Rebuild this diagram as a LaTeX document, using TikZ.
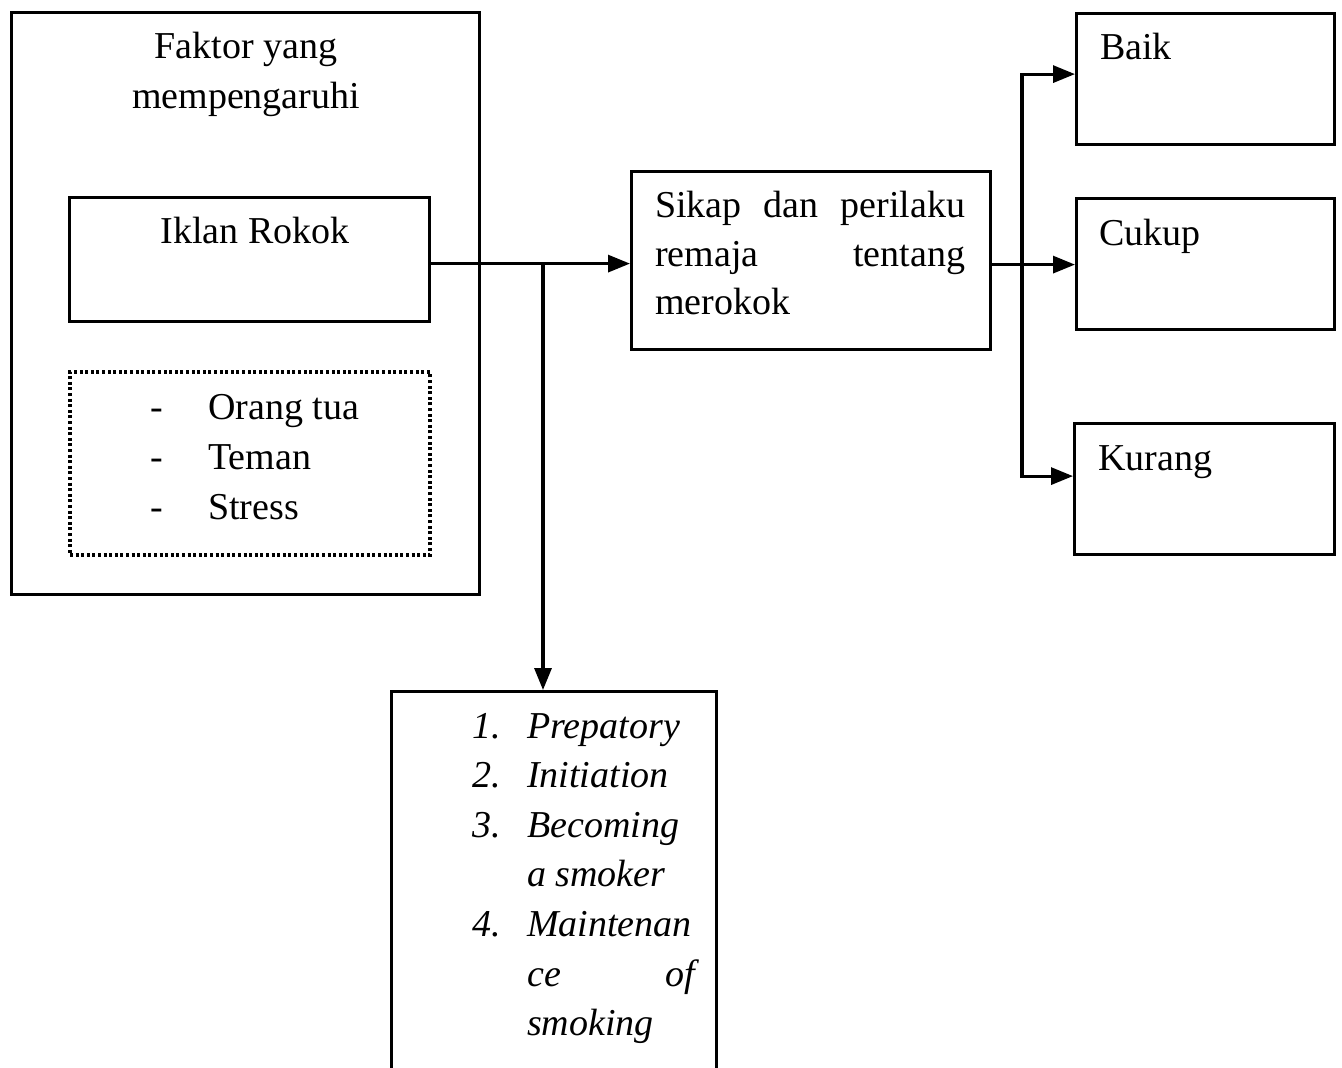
\documentclass[tikz,border=0pt]{standalone}
\usepackage{fontspec}
\setmainfont{Liberation Serif}
\usetikzlibrary{arrows.meta}
\begin{document}
\begin{tikzpicture}[x=1pt,y=-1pt,
  box/.style={draw, line width=3.2pt, inner sep=0pt, anchor=north west},
  dotbox/.style={draw, line width=4pt, dash pattern=on 3pt off 2.6pt, inner sep=0pt, anchor=north west},
  txt/.style={font=\fontsize{38}{50}\selectfont, inner sep=0pt, anchor=base west},
  itxt/.style={font=\fontsize{38}{50}\selectfont\itshape, inner sep=0pt, anchor=base west},
  arr/.style={line width=3.2pt, -{Triangle[length=22pt,width=17pt]}},
  ln/.style={line width=3.2pt}]
\clip (0,0) rectangle (1342,1068);
\fill[white] (0,0) rectangle (1342,1068);
% boxes
\node[box, minimum width=468pt, minimum height=582pt] (faktor) at (10,11) {};
\node[box, minimum width=360pt, minimum height=124pt] (iklan) at (68,196) {};
\node[dotbox, minimum width=360pt, minimum height=183pt] (lain) at (68,370) {};
\node[box, minimum width=359pt, minimum height=178pt] (sikap) at (630,170) {};
\node[box, minimum width=258pt, minimum height=131pt] (baik) at (1075,12) {};
\node[box, minimum width=258pt, minimum height=131pt] (cukup) at (1075,197) {};
\node[box, minimum width=260pt, minimum height=131pt] (kurang) at (1073,422) {};
\node[box, minimum width=325pt, minimum height=420pt] (tahap) at (390,690) {};
% texts
\node[txt, anchor=base] (t1) at (246,58) {Faktor yang};
\node[txt, anchor=base] (t2) at (246,108) {mempengaruhi};
\node[txt, anchor=base] (t3) at (255,243) {Iklan Rokok};
\node[txt] (d1) at (150,419) {-};
\node[txt] (d2) at (150,469) {-};
\node[txt] (d3) at (150,519) {-};
\node[txt] (o1) at (208,419) {Orang tua};
\node[txt] (o2) at (208,469) {Teman};
\node[txt] (o3) at (208,519) {Stress};
\node[txt] (s1) at (655,217) {\makebox[310pt][s]{Sikap dan perilaku}};
\node[txt] (s2) at (655,266) {\makebox[310pt][s]{remaja tentang}};
\node[txt] (s3) at (655,314) {merokok};
\node[txt] (b1) at (1100,59) {Baik};
\node[txt] (b2) at (1099,245) {Cukup};
\node[txt] (b3) at (1098,470) {Kurang};
\node[itxt] (n1) at (472,738) {1.};
\node[itxt] (n2) at (472,787) {2.};
\node[itxt] (n3) at (472,837) {3.};
\node[itxt] (n4) at (472,936) {4.};
\node[itxt] (l1) at (527,738) {Prepatory};
\node[itxt] (l2) at (527,787) {Initiation};
\node[itxt] (l3) at (527,837) {Becoming};
\node[itxt] (l4) at (527,886) {a smoker};
\node[itxt] (l5) at (527,936) {Maintenan};
\node[itxt] (l6) at (527,986) {\makebox[168pt][s]{ce of}};
\node[itxt] (l7) at (527,1035) {smoking};
% connectors
\path ([yshift=-4pt]iklan.east) coordinate (ie);
\draw[arr] (ie) -- (ie -| sikap.west);
\coordinate (br) at (ie -| 543,0);
\draw[arr] (br) -- (br |- tahap.north);
\path ([yshift=-4pt]sikap.east) coordinate (se);
\coordinate (rj) at (se -| 1022,0);
\draw[ln] (se) -- (rj);
\draw[arr] (rj) |- ([yshift=5pt]baik.west);
\draw[arr] (rj) -- (rj -| cukup.west);
\draw[arr] (rj) |- ([yshift=13pt]kurang.west);
\end{tikzpicture}
\end{document}
